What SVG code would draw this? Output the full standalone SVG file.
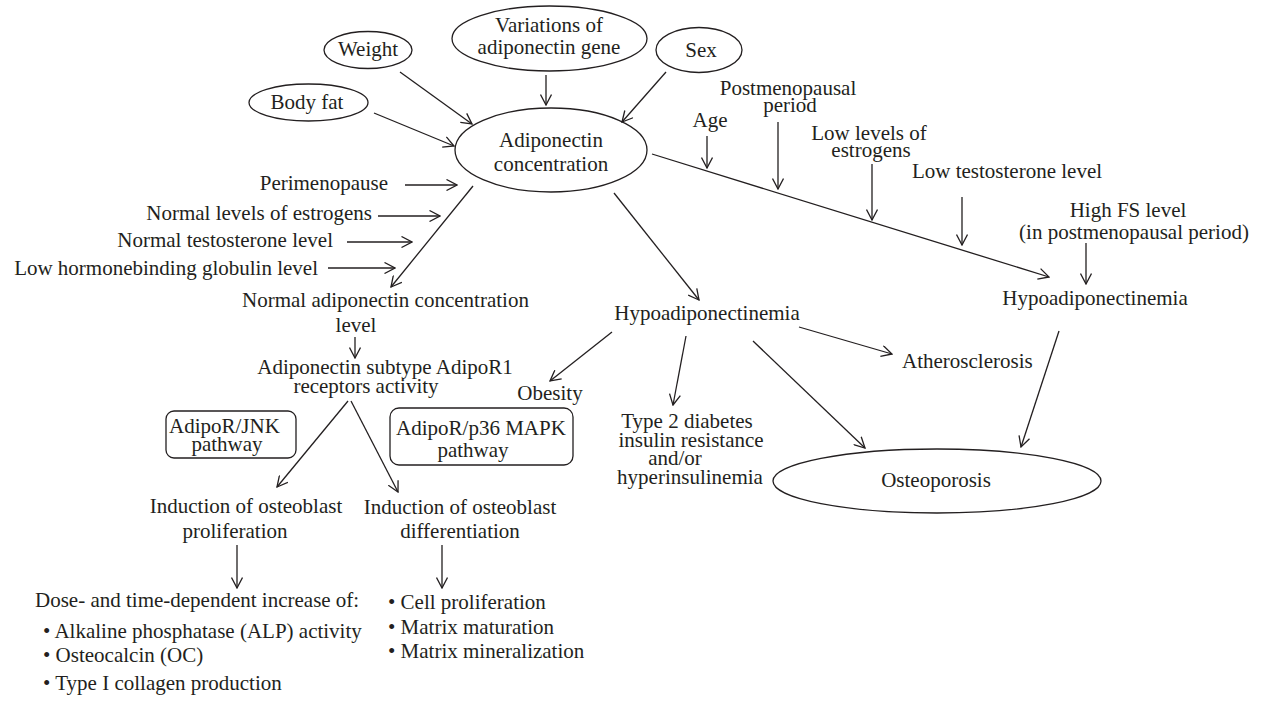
<svg xmlns="http://www.w3.org/2000/svg" width="1262" height="702" viewBox="0 0 1262 702">
<style>
.t{font-family:"Liberation Serif","Times New Roman",serif;font-size:21px;fill:#231f20}
.m{text-anchor:middle}
.e{text-anchor:end}
.s{fill:none;stroke:#231f20;stroke-width:1.3}
.c line{stroke:#231f20;stroke-width:1.3;marker-end:url(#ah)}
.p line{stroke:#231f20;stroke-width:1.3}
</style>
<defs>
<marker id="ah" viewBox="0 0 12 12" refX="11" refY="6" markerWidth="12" markerHeight="12" markerUnits="userSpaceOnUse" orient="auto">
<path d="M0.5,0.5 L11,6 L0.5,11.5" fill="none" stroke="#231f20" stroke-width="1.3"/>
</marker>
</defs>
<rect width="1262" height="702" fill="#fff"/>

<g id="n-weight"><ellipse class="s" cx="368" cy="50" rx="44" ry="18.5"/><text class="t m" x="368" y="56">Weight</text></g>
<g id="n-variations"><ellipse class="s" cx="549.5" cy="38.5" rx="97.5" ry="32.5"/><text class="t m" x="549" y="32">Variations of</text><text class="t m" x="549" y="54">adiponectin gene</text></g>
<g id="n-sex"><ellipse class="s" cx="699" cy="50" rx="43" ry="22.5"/><text class="t m" x="701" y="57">Sex</text></g>
<g id="n-bodyfat"><ellipse class="s" cx="308.5" cy="102.5" rx="59.5" ry="18.5"/><text class="t m" x="307" y="109">Body fat</text></g>
<g id="n-adiponectin"><ellipse class="s" cx="551" cy="150" rx="96" ry="42"/><text class="t m" x="551" y="147">Adiponectin</text><text class="t m" x="551" y="171">concentration</text></g>

<g id="n-perimenopause"><text class="t e" x="388" y="190">Perimenopause</text></g>
<g id="n-normal-estrogens"><text class="t e" x="372" y="220">Normal levels of estrogens</text></g>
<g id="n-normal-testosterone"><text class="t e" x="333" y="247">Normal testosterone level</text></g>
<g id="n-low-shbg"><text class="t e" x="318" y="275">Low hormonebinding globulin level</text></g>

<g id="n-normal-adiponectin"><text class="t" x="242" y="307">Normal adiponectin concentration</text><text class="t m" x="356" y="332">level</text></g>
<g id="n-adipor1"><text class="t m" x="385" y="374">Adiponectin subtype AdipoR1</text><text class="t m" x="366" y="393">receptors activity</text></g>

<g id="n-jnk"><rect class="s" x="166" y="411" width="130" height="47" rx="8"/><text class="t" x="169" y="433">AdipoR/JNK</text><text class="t m" x="227" y="451">pathway</text></g>
<g id="n-p36"><rect class="s" x="390" y="408" width="183" height="57" rx="9"/><text class="t m" x="481" y="435">AdipoR/p36 MAPK</text><text class="t m" x="473" y="457">pathway</text></g>

<g id="n-proliferation"><text class="t m" x="246" y="513">Induction of osteoblast</text><text class="t m" x="235" y="538">proliferation</text></g>
<g id="n-differentiation"><text class="t m" x="460" y="514">Induction of osteoblast</text><text class="t m" x="460" y="538">differentiation</text></g>

<g id="n-dose"><text class="t" x="35" y="607">Dose- and time-dependent increase of:</text>
<text class="t" x="43" y="638">• Alkaline phosphatase (ALP) activity</text>
<text class="t" x="43" y="662">• Osteocalcin (OC)</text>
<text class="t" x="43" y="690">• Type I collagen production</text></g>
<g id="n-cell"><text class="t" x="388" y="609">• Cell proliferation</text>
<text class="t" x="388" y="634">• Matrix maturation</text>
<text class="t" x="388" y="658">• Matrix mineralization</text></g>

<g id="n-hypo1"><text class="t m" x="707" y="320">Hypoadiponectinemia</text></g>
<g id="n-obesity"><text class="t m" x="550" y="400">Obesity</text></g>
<g id="n-type2"><text class="t m" x="687" y="428">Type 2 diabetes</text><text class="t m" x="691" y="447">insulin resistance</text><text class="t m" x="675" y="465">and/or</text><text class="t m" x="690" y="484">hyperinsulinemia</text></g>
<g id="n-athero"><text class="t" x="902" y="368">Atherosclerosis</text></g>
<g id="n-osteoporosis"><ellipse class="s" cx="937" cy="481" rx="164" ry="32"/><text class="t m" x="936" y="487">Osteoporosis</text></g>

<g id="n-age"><text class="t m" x="710" y="127">Age</text></g>
<g id="n-postmeno"><text class="t m" x="788" y="95">Postmenopausal</text><text class="t m" x="790" y="112">period</text></g>
<g id="n-low-estrogens"><text class="t m" x="869" y="140">Low levels of</text><text class="t m" x="871" y="157">estrogens</text></g>
<g id="n-low-testosterone"><text class="t m" x="1007" y="178">Low testosterone level</text></g>
<g id="n-high-fs"><text class="t m" x="1128" y="217">High FS level</text><text class="t m" x="1134" y="239">(in postmenopausal period)</text></g>
<g id="n-hypo2"><text class="t m" x="1095" y="305">Hypoadiponectinemia</text></g>

<g id="connectors" class="c">
<line x1="400" y1="72" x2="472" y2="124"/>
<line x1="546" y1="75" x2="546" y2="105"/>
<line x1="666" y1="72" x2="622" y2="122"/>
<line x1="374" y1="113" x2="454" y2="146"/>
<line x1="405" y1="185" x2="457" y2="185"/>
<line x1="378" y1="216" x2="440" y2="216"/>
<line x1="347" y1="242" x2="412" y2="242"/>
<line x1="328" y1="268" x2="395" y2="268"/>
<line x1="473" y1="186" x2="391" y2="287"/>
<line x1="355" y1="337" x2="355" y2="358"/>
<line x1="348" y1="401" x2="277" y2="487"/>
<line x1="351" y1="401" x2="398" y2="492"/>
<line x1="237" y1="545" x2="237" y2="588"/>
<line x1="442" y1="545" x2="442" y2="588"/>
<line x1="614" y1="193" x2="699" y2="300"/>
<line x1="612" y1="332" x2="550" y2="381"/>
<line x1="686" y1="336" x2="673" y2="405"/>
<line x1="753" y1="341" x2="865" y2="448"/>
<line x1="799" y1="327" x2="892" y2="354"/>
<line x1="652" y1="154" x2="1049" y2="277"/>
<line x1="707" y1="136" x2="707" y2="168"/>
<line x1="778" y1="122" x2="778" y2="189"/>
<line x1="872" y1="164" x2="872" y2="220"/>
<line x1="962" y1="197" x2="962" y2="245"/>
<line x1="1086" y1="243" x2="1086" y2="284"/>
<line x1="1059" y1="331" x2="1021" y2="447"/>
</g>
</svg>
